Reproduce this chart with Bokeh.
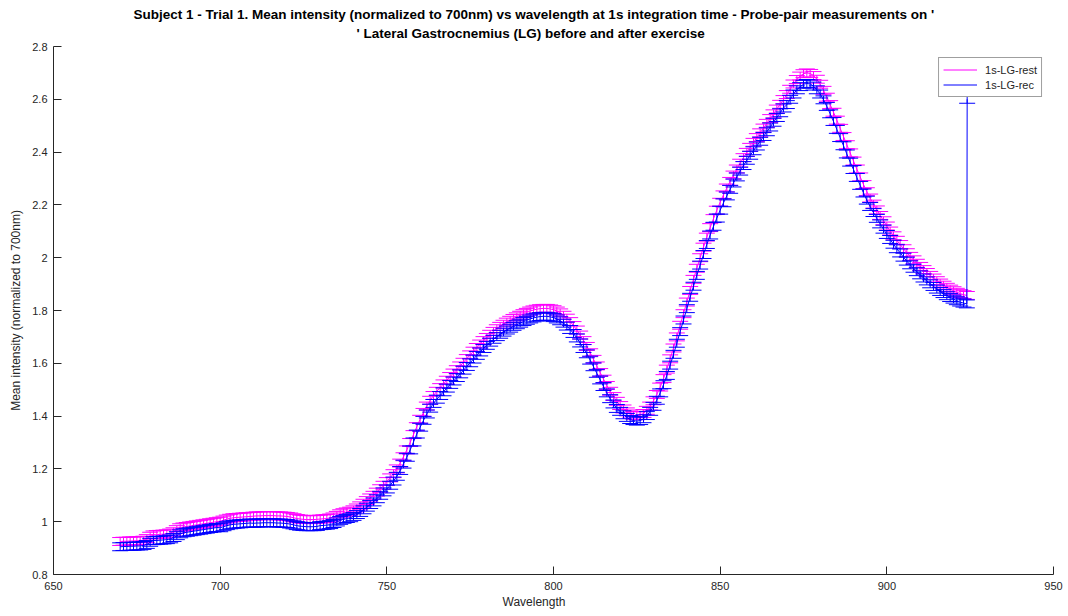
from bokeh.plotting import figure
from bokeh.models import (ColumnDataSource, FixedTicker, CustomJSTickFormatter,
                          Title, Legend, LegendItem, Range1d)
from bokeh.embed import file_html
from bokeh.resources import INLINE

# Wavelength grid (nm)
wavelength = list(range(670, 925))

# Mean intensity normalized to 700 nm, resting measurement
rest_mean = [
    0.925, 0.926, 0.926, 0.927, 0.927, 0.928, 0.928, 0.930, 0.936, 0.945,
    0.950, 0.951, 0.952, 0.953, 0.954, 0.957, 0.962, 0.970, 0.977, 0.980,
    0.982, 0.984, 0.986, 0.988, 0.990, 0.992, 0.994, 0.996, 0.998, 1.000,
    1.002, 1.006, 1.010, 1.013, 1.015, 1.016, 1.017, 1.018, 1.019, 1.020,
    1.021, 1.022, 1.022, 1.023, 1.023, 1.023, 1.023, 1.022, 1.022, 1.021,
    1.020, 1.018, 1.015, 1.012, 1.010, 1.009, 1.008, 1.008, 1.008, 1.009,
    1.010, 1.011, 1.012, 1.014, 1.018, 1.024, 1.030, 1.034, 1.037, 1.040,
    1.045, 1.052, 1.060, 1.070, 1.080, 1.090, 1.100, 1.112, 1.125, 1.138,
    1.152, 1.166, 1.182, 1.200, 1.222, 1.246, 1.272, 1.300, 1.330, 1.360,
    1.388, 1.414, 1.438, 1.460, 1.478, 1.494, 1.508, 1.522, 1.536, 1.550,
    1.563, 1.576, 1.590, 1.604, 1.618, 1.632, 1.646, 1.660, 1.673, 1.686,
    1.698, 1.710, 1.721, 1.731, 1.740, 1.748, 1.756, 1.763, 1.770, 1.776,
    1.782, 1.788, 1.793, 1.798, 1.802, 1.805, 1.807, 1.808, 1.808, 1.806,
    1.803, 1.798, 1.791, 1.782, 1.771, 1.758, 1.743, 1.726, 1.707, 1.686,
    1.664, 1.640, 1.615, 1.590, 1.565, 1.540, 1.516, 1.494, 1.474, 1.456,
    1.440, 1.427, 1.416, 1.408, 1.403, 1.401, 1.403, 1.410, 1.422, 1.438,
    1.458, 1.482, 1.510, 1.542, 1.578, 1.617, 1.658, 1.700, 1.744, 1.788,
    1.832, 1.876, 1.918, 1.960, 2.000, 2.040, 2.078, 2.114, 2.148, 2.180,
    2.210, 2.238, 2.264, 2.289, 2.313, 2.336, 2.358, 2.379, 2.399, 2.418,
    2.437, 2.455, 2.473, 2.491, 2.509, 2.527, 2.545, 2.563, 2.581, 2.599,
    2.618, 2.638, 2.658, 2.675, 2.688, 2.697, 2.700, 2.698, 2.690, 2.676,
    2.657, 2.634, 2.608, 2.580, 2.551, 2.521, 2.490, 2.459, 2.428, 2.397,
    2.366, 2.336, 2.306, 2.277, 2.250, 2.226, 2.203, 2.181, 2.160, 2.140,
    2.120, 2.101, 2.083, 2.066, 2.050, 2.034, 2.019, 2.005, 1.992, 1.979,
    1.967, 1.955, 1.944, 1.933, 1.923, 1.913, 1.904, 1.896, 1.888, 1.881,
    1.875, 1.869, 1.864, 1.860, 1.857,
]

# Mean intensity normalized to 700 nm, recovery measurement
rec_mean = [
    0.905, 0.906, 0.906, 0.907, 0.907, 0.908, 0.908, 0.910, 0.914, 0.922,
    0.928, 0.929, 0.930, 0.931, 0.932, 0.935, 0.940, 0.947, 0.954, 0.958,
    0.960, 0.962, 0.964, 0.966, 0.968, 0.970, 0.972, 0.974, 0.976, 0.978,
    0.977, 0.981, 0.985, 0.988, 0.990, 0.991, 0.992, 0.993, 0.994, 0.995,
    0.994, 0.995, 0.995, 0.996, 0.996, 0.996, 0.996, 0.995, 0.995, 0.994,
    0.993, 0.991, 0.988, 0.985, 0.983, 0.982, 0.981, 0.981, 0.981, 0.982,
    0.985, 0.986, 0.987, 0.989, 0.993, 0.999, 1.005, 1.009, 1.012, 1.015,
    1.020, 1.027, 1.035, 1.045, 1.055, 1.065, 1.075, 1.087, 1.100, 1.113,
    1.124, 1.138, 1.154, 1.172, 1.194, 1.218, 1.244, 1.272, 1.302, 1.332,
    1.358, 1.384, 1.408, 1.430, 1.448, 1.464, 1.478, 1.492, 1.506, 1.520,
    1.533, 1.546, 1.560, 1.574, 1.588, 1.602, 1.616, 1.630, 1.643, 1.656,
    1.668, 1.680, 1.691, 1.701, 1.710, 1.718, 1.726, 1.733, 1.740, 1.746,
    1.752, 1.758, 1.763, 1.768, 1.772, 1.775, 1.777, 1.778, 1.778, 1.776,
    1.773, 1.768, 1.761, 1.752, 1.741, 1.728, 1.713, 1.696, 1.677, 1.656,
    1.636, 1.612, 1.587, 1.562, 1.537, 1.512, 1.488, 1.466, 1.446, 1.429,
    1.418, 1.405, 1.395, 1.387, 1.383, 1.381, 1.383, 1.390, 1.402, 1.418,
    1.437, 1.460, 1.488, 1.519, 1.554, 1.593, 1.634, 1.676, 1.720, 1.764,
    1.807, 1.850, 1.892, 1.933, 1.972, 2.012, 2.050, 2.086, 2.119, 2.150,
    2.180, 2.208, 2.234, 2.259, 2.283, 2.306, 2.328, 2.349, 2.369, 2.388,
    2.405, 2.423, 2.441, 2.459, 2.477, 2.495, 2.513, 2.531, 2.549, 2.567,
    2.580, 2.600, 2.620, 2.636, 2.648, 2.657, 2.660, 2.658, 2.650, 2.636,
    2.620, 2.598, 2.573, 2.545, 2.516, 2.486, 2.455, 2.424, 2.393, 2.362,
    2.334, 2.304, 2.274, 2.245, 2.218, 2.194, 2.171, 2.149, 2.128, 2.108,
    2.088, 2.069, 2.051, 2.034, 2.018, 2.002, 1.987, 1.973, 1.960, 1.947,
    1.935, 1.923, 1.912, 1.901, 1.891, 1.881, 1.872, 1.864, 1.856, 1.849,
    1.843, 1.837, 1.832, 1.828, 1.825,
]

# Last recorded recovery sample (detector edge outlier)
rec_tail_wavelength = 924.1
rec_tail_mean = 2.60

# Error bar half-heights (standard deviation)
rest_err = 0.015
rec_err = 0.015

x_ticks = [650, 700, 750, 800, 850, 900, 950]
y_ticks = [0.8, 1.0, 1.2, 1.4, 1.6, 1.8, 2.0, 2.2, 2.4, 2.6, 2.8]

TITLE_1 = ("Subject 1 - Trial 1. Mean intensity (normalized to 700nm) vs wavelength "
           "at 1s integration time - Probe-pair measurements on '")
TITLE_2 = "' Lateral Gastrocnemius (LG) before and after exercise"
X_LABEL = "Wavelength"
Y_LABEL = "Mean intensity (normalized to 700nm)"

REST_COLOR = "#FF00FF"
REC_COLOR = "#0000FF"
AXIS_COLOR = "#262626"
FONT = "Liberation Sans"


def make_source(xs, ys, err):
    return ColumnDataSource(dict(
        x=xs, y=ys,
        lo=[v - err for v in ys],
        hi=[v + err for v in ys],
    ))


rest_src = make_source(wavelength, rest_mean, rest_err)
rec_src = make_source(wavelength + [rec_tail_wavelength], rec_mean + [rec_tail_mean], rec_err)

p = figure(width=1068, height=616, output_backend="svg", toolbar_location=None,
           x_range=Range1d(650, 950), y_range=Range1d(0.8, 2.8),
           min_border_left=53, min_border_right=15, min_border_top=46,
           min_border_bottom=42)
p.outline_line_color = None
p.background_fill_color = "white"
p.border_fill_color = "white"
p.grid.visible = False


def draw_errorbar(src, color):
    p.segment(x0="x", y0="lo", x1="x", y1="hi", source=src, line_color=color, line_width=1)
    p.scatter(x="x", y="lo", source=src, marker="dash", size=16, line_color=color, line_width=1)
    p.scatter(x="x", y="hi", source=src, marker="dash", size=16, line_color=color, line_width=1)
    return p.line(x="x", y="y", source=src, line_color=color, line_width=1)


rest_line = draw_errorbar(rest_src, REST_COLOR)
rec_line = draw_errorbar(rec_src, REC_COLOR)

# Axes
for ax in (p.xaxis[0], p.yaxis[0]):
    ax.axis_line_color = AXIS_COLOR
    ax.major_tick_line_color = AXIS_COLOR
    ax.major_tick_in = 8
    ax.major_tick_out = 0
    ax.minor_tick_line_color = None
    ax.major_label_text_font = FONT
    ax.major_label_text_font_size = "11px"
    ax.major_label_text_color = AXIS_COLOR
    ax.axis_label_text_font = FONT
    ax.axis_label_text_font_size = "12px"
    ax.axis_label_text_font_style = "normal"
    ax.axis_label_text_color = AXIS_COLOR

p.xaxis[0].ticker = FixedTicker(ticks=x_ticks, minor_ticks=[])
p.yaxis[0].ticker = FixedTicker(ticks=y_ticks, minor_ticks=[])
p.yaxis[0].formatter = CustomJSTickFormatter(code="return Number(tick.toFixed(1)).toString();")
p.yaxis[0].axis_label = Y_LABEL
p.xaxis[0].major_label_standoff = 7
p.yaxis[0].major_label_standoff = 6
p.yaxis[0].axis_label_standoff = 6

# x-axis label as a below-title so it can share the title's centre line
p.add_layout(Title(text=X_LABEL, align="left", offset=449, standoff=0, text_font=FONT,
                   text_font_size="12px", text_font_style="normal",
                   text_color=AXIS_COLOR), "below")

# Two-line title stacked above the plot (the second line sits closest to the frame)
p.add_layout(Title(text=TITLE_2, align="left", offset=303, standoff=8, vertical_align="top",
                   text_font=FONT, text_font_size="13.5px", text_font_style="bold",
                   text_color="black"), "above")
p.add_layout(Title(text=TITLE_1, align="left", offset=80, standoff=0, text_font=FONT,
                   text_font_size="13.5px", text_font_style="bold", text_color="black"), "above")

legend = Legend(items=[LegendItem(label="1s-LG-rest", renderers=[rest_line]),
                       LegendItem(label="1s-LG-rec", renderers=[rec_line])],
                location="top_right", margin=11, padding=4, spacing=0,
                glyph_width=34, glyph_height=15, label_height=15, label_standoff=8,
                label_text_font=FONT, label_text_font_size="11px",
                label_text_color=AXIS_COLOR,
                border_line_color="#404040", border_line_width=1,
                background_fill_color="white", background_fill_alpha=1)
p.add_layout(legend)

open("out.html", "w").write(file_html(p, INLINE))
